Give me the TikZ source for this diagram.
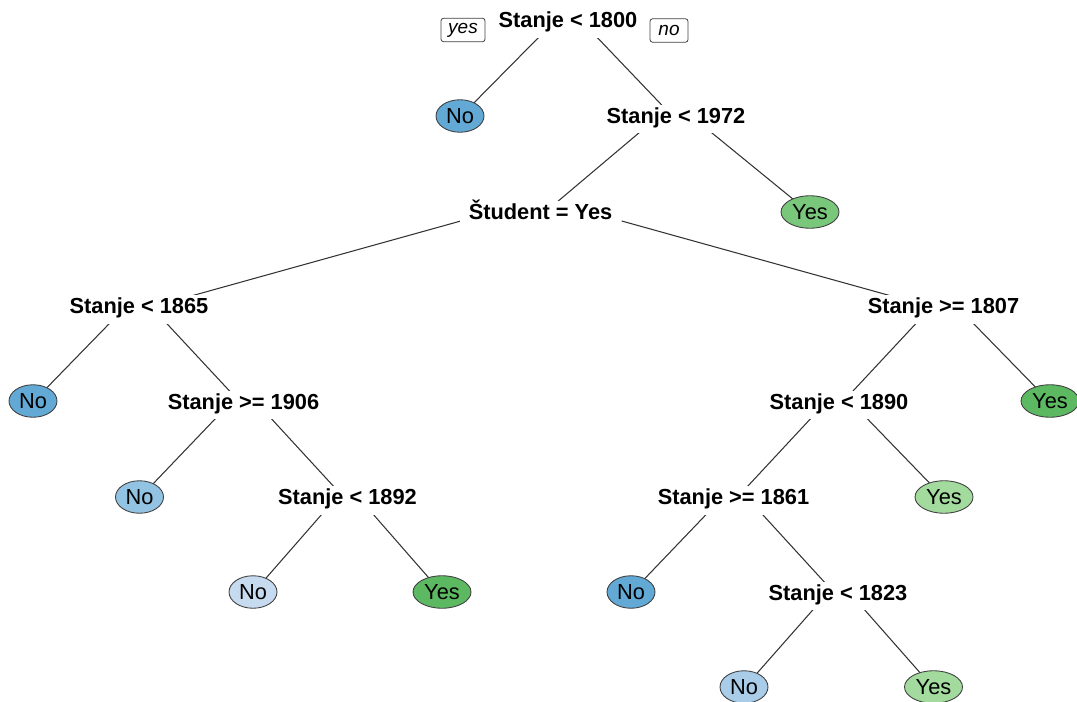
\documentclass[tikz,border=0pt]{standalone}
\usepackage{fontspec}
\setmainfont{Liberation Sans}
\usetikzlibrary{shapes.geometric,calc,backgrounds}
\definecolor{noA}{HTML}{62A9D6}
\definecolor{noB}{HTML}{92C3E2}
\definecolor{noC}{HTML}{A9CDE8}
\definecolor{noD}{HTML}{C6DBEF}
\definecolor{yesA}{HTML}{5DB961}
\definecolor{yesB}{HTML}{79C77A}
\definecolor{yesC}{HTML}{A3DA9E}
\newcommand\treebranch[3]{%
  \coordinate (bl) at ($(#2)!0.4!(#3)$);
  \coordinate (br) at ($(#3)!0.4!(#2)$);
  \draw[edgeline] ($(bl |- #1)+(0,6)$) -- ($(#2.center)+(0,1)$);
  \draw[edgeline] ($(br |- #1)+(0,6)$) -- ($(#3.center)+(0,1)$);
}
\begin{document}
\begin{tikzpicture}[x=0.02cm,y=-0.02cm,
  split/.style={fill=white, font=\fontsize{12.4}{14}\selectfont\bfseries,
    text height=0.72em, text depth=0.21em, inner xsep=5pt, inner ysep=3.5pt},
  leafno/.style={ellipse, draw=black!75, line width=0.5pt, inner sep=0pt,
    font=\fontsize{12.4}{14}\selectfont, minimum width=0.96cm, minimum height=0.65cm},
  leafyes/.style={leafno, minimum width=1.16cm},
  edgeline/.style={draw=black!80, line width=0.6pt},
  tag/.style={draw=black!75, rounded corners=1.5pt, line width=0.45pt, inner sep=0pt,
    font=\fontsize{10.8}{12}\selectfont\itshape, minimum height=0.47cm}
]
\useasboundingbox (0,0) rectangle (1077,702);

\node[split] (n1) at (568,23.5) {Stanje < 1800};
\node[tag, minimum width=0.88cm] (tyes) at (463,30) {yes};
\node[tag, minimum width=0.76cm] (tno) at (669,30.5) {no};
\node[leafno, fill=noA] (l2) at (460,116) {No};
\node[split] (n3) at (676,119) {Stanje < 1972};
\node[split] (n6) at (540.5,215) {Študent = Yes};
\node[leafyes, fill=yesB] (l7) at (810,212) {Yes};
\node[split] (n12) at (139,309.5) {Stanje < 1865};
\node[split] (n13) at (943.5,309.5) {Stanje >= 1807};
\node[leafno, fill=noA] (l24) at (33,401) {No};
\node[split] (n25) at (243.5,405) {Stanje >= 1906};
\node[split] (n26) at (839,405) {Stanje < 1890};
\node[leafyes, fill=yesA] (l27) at (1050,401) {Yes};
\node[leafno, fill=noB] (l50) at (139.5,497) {No};
\node[split] (n51) at (347.5,500.5) {Stanje < 1892};
\node[split] (n52) at (733.5,500.5) {Stanje >= 1861};
\node[leafyes, fill=yesC] (l53) at (944,497) {Yes};
\node[leafno, fill=noD] (l102) at (253,592) {No};
\node[leafyes, fill=yesA] (l103) at (442,592) {Yes};
\node[leafno, fill=noA] (l104) at (631,592) {No};
\node[split] (n105) at (838,596) {Stanje < 1823};
\node[leafno, fill=noC] (l210) at (744,687) {No};
\node[leafyes, fill=yesC] (l211) at (933.5,687) {Yes};

\begin{scope}[on background layer]
  \treebranch{n1}{l2}{n3}
  \treebranch{n3}{n6}{l7}
  \treebranch{n6}{n12}{n13}
  \treebranch{n12}{l24}{n25}
  \treebranch{n25}{l50}{n51}
  \treebranch{n51}{l102}{l103}
  \treebranch{n13}{n26}{l27}
  \treebranch{n26}{n52}{l53}
  \treebranch{n52}{l104}{n105}
  \treebranch{n105}{l210}{l211}
\end{scope}
\end{tikzpicture}
\end{document}
